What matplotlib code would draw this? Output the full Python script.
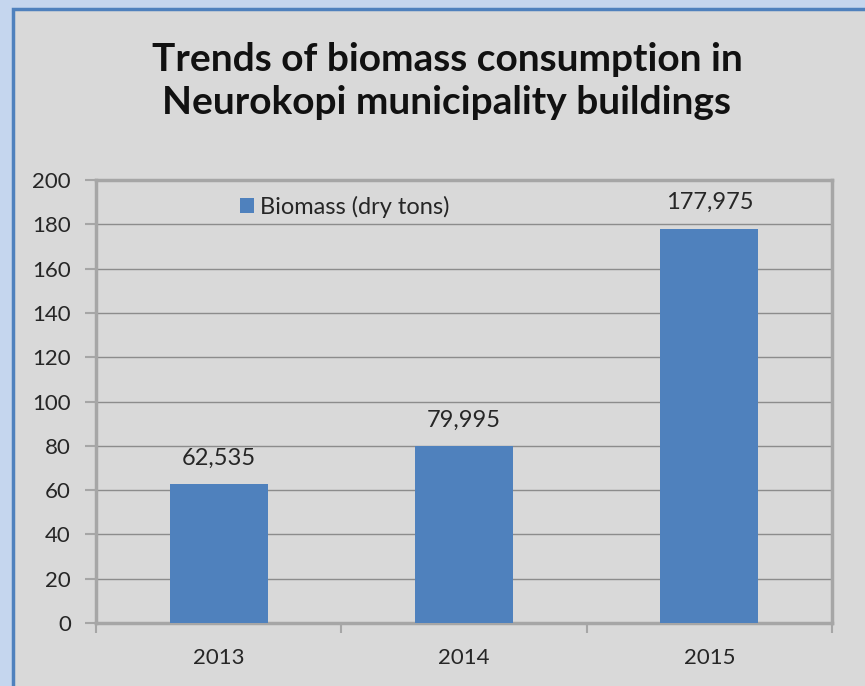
import matplotlib.pyplot as plt
from matplotlib.patches import Rectangle

# データ
years = ["2013", "2014", "2015"]
biomass = [62.535, 79.995, 177.975]
value_labels = ["62,535", "79,995", "177,975"]
y_ticks = [0, 20, 40, 60, 80, 100, 120, 140, 160, 180, 200]

BAR = "#4f81bd"
BG = "#d9d9d9"
GRID = "#8c8c8c"
FRAME = "#a6a6a6"
TXT = "#262626"

plt.rcParams["font.family"] = ["Lato", "DejaVu Sans"]

fig = plt.figure(figsize=(8.65, 6.86), dpi=100)
fig.patch.set_facecolor("#c5d6ee")
W, H = 865, 686

# チャート領域（左と上に青い枠）
fig.patches.append(Rectangle((13 / W, -0.1), 1.2, 1 - 9 / H + 0.1,
                             transform=fig.transFigure, facecolor=BG,
                             edgecolor=BAR, lw=2.5, zorder=-5))

ax = fig.add_axes([96 / W, 1 - 623 / H, (832 - 96) / W, (623 - 180) / H])
ax.set_zorder(2)
ax.set_facecolor(BG)

x = list(range(len(years)))
bars = ax.bar(x, biomass, width=0.4, color=BAR, zorder=3, label="Biomass (dry tons)")
for xi, v, lab in zip(x, biomass, value_labels):
    ax.annotate(lab, (xi, v), xytext=(0, 14), textcoords="offset points",
                ha="center", va="baseline", fontsize=17, color=TXT)

ax.set_xlim(-0.5, len(years) - 0.5)
ax.set_ylim(0, 200)
ax.set_yticks(y_ticks)
ax.set_xticks(x)
ax.set_xticklabels(years)
ax.set_xticks([-0.5, 0.5, 1.5, 2.5], minor=True)
ax.tick_params(axis="x", which="major", length=0, pad=18, labelsize=16, labelcolor=TXT)
ax.tick_params(axis="x", which="minor", length=7, width=1.5, color=FRAME, direction="out")
ax.tick_params(axis="y", length=8, width=1.5, color=FRAME, labelsize=16,
               labelcolor=TXT, pad=10)
ax.yaxis.grid(True, color=GRID, lw=1, zorder=1)
ax.set_axisbelow(True)

for side in ["left", "bottom", "top", "right"]:
    ax.spines[side].set_color(FRAME)
    ax.spines[side].set_linewidth(2.5)

ax.legend(loc="center left", bbox_to_anchor=(0.183, 0.94), frameon=False,
          fontsize=17, handlelength=0.6, handleheight=0.6, handletextpad=0.25,
          borderaxespad=0, labelcolor=TXT)

fig.text(447 / W, 1 - 81 / H,
         "Trends of biomass consumption in\nNeurokopi municipality buildings",
         ha="center", va="center", fontsize=28, fontweight="bold",
         color="#111111", linespacing=1.3)

fig.savefig("out.png", dpi=100, facecolor=fig.get_facecolor())
